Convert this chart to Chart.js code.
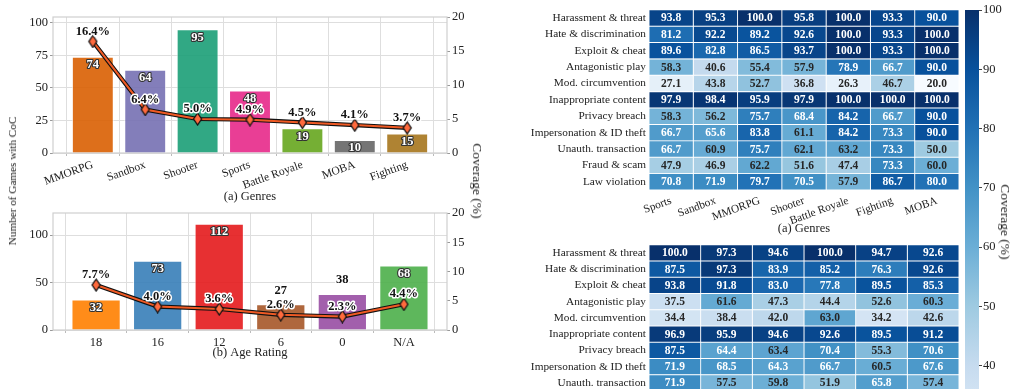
<!DOCTYPE html>
<html>
<head>
<meta charset="utf-8">
<script src="https://cdn.jsdelivr.net/npm/chart.js@4.4.1/dist/chart.umd.min.js"></script>
<style>
html, body { margin: 0; padding: 0; width: 1018px; height: 389px; overflow: hidden; background: #fff; }
canvas { position: absolute; }
.lbl { position: absolute; font-family: 'Liberation Serif', serif; color: #222; white-space: nowrap; transform-origin: center; }
</style>
</head>
<body>
<canvas id="genreChart" width="490" height="208" style="left:0;top:0"></canvas>
<canvas id="ageChart" width="490" height="168" style="left:0;top:196px"></canvas>
<canvas id="heatGenre" width="470" height="240" style="left:500px;top:0"></canvas>
<canvas id="heatAge" width="470" height="220" style="left:500px;top:235px"></canvas>
<canvas id="colorBar" width="78" height="500" style="left:940px;top:0"></canvas>
<div class="lbl" style="left:12px;top:181px;font-size:11.2px;transform:translate(-50%,-50%) rotate(-90deg)">Number of Games with CoC</div>
<div class="lbl" style="left:477px;top:181px;font-size:13.5px;transform:translate(-50%,-50%) rotate(90deg)">Coverage (%)</div>
<div class="lbl" style="left:1005px;top:222px;font-size:13.5px;transform:translate(-50%,-50%) rotate(90deg)">Coverage (%)</div>
<script>
// bar + line panels
const genres = ['MMORPG', 'Sandbox', 'Shooter', 'Sports', 'Battle Royale', 'MOBA', 'Fighting'];
const genreCounts = [74, 64, 95, 48, 19, 10, 15];
const genreCoverage = [16.4, 6.4, 5.0, 4.9, 4.5, 4.1, 3.7];
const ageRatings = ['18', '16', '12', '6', '0', 'N/A'];
const ageCounts = [32, 73, 112, 27, 38, 68];
const ageCoverage = [7.7, 4.0, 3.6, 2.6, 2.3, 4.4];
const genreCountTicks = [0, 25, 50, 75, 100];
const ageCountTicks = [0, 50, 100];
const coverageTicks = [0, 5, 10, 15, 20];

// heatmaps
const violations = ['Harassment & threat', 'Hate & discrimination', 'Exploit & cheat', 'Antagonistic play',
    'Mod. circumvention', 'Inappropriate content', 'Privacy breach', 'Impersonation & ID theft',
    'Unauth. transaction', 'Fraud & scam', 'Law violation'];
const heatGenres = ['Sports', 'Sandbox', 'MMORPG', 'Shooter', 'Battle Royale', 'Fighting', 'MOBA'];
const heatGenreValues = [
    [93.8, 95.3, 100.0, 95.8, 100.0, 93.3, 90.0],
    [81.2, 92.2, 89.2, 92.6, 100.0, 93.3, 100.0],
    [89.6, 82.8, 86.5, 93.7, 100.0, 93.3, 100.0],
    [58.3, 40.6, 55.4, 57.9, 78.9, 66.7, 90.0],
    [27.1, 43.8, 52.7, 36.8, 26.3, 46.7, 20.0],
    [97.9, 98.4, 95.9, 97.9, 100.0, 100.0, 100.0],
    [58.3, 56.2, 75.7, 68.4, 84.2, 66.7, 90.0],
    [66.7, 65.6, 83.8, 61.1, 84.2, 73.3, 90.0],
    [66.7, 60.9, 75.7, 62.1, 63.2, 73.3, 50.0],
    [47.9, 46.9, 62.2, 51.6, 47.4, 73.3, 60.0],
    [70.8, 71.9, 79.7, 70.5, 57.9, 86.7, 80.0]
];
const heatAgeRatings = ['18', '16', '12', '6', '0', 'N/A'];
// only the first nine rows are visible in the figure
const heatAgeValues = [
    [100.0, 97.3, 94.6, 100.0, 94.7, 92.6],
    [87.5, 97.3, 83.9, 85.2, 76.3, 92.6],
    [93.8, 91.8, 83.0, 77.8, 89.5, 85.3],
    [37.5, 61.6, 47.3, 44.4, 52.6, 60.3],
    [34.4, 38.4, 42.0, 63.0, 34.2, 42.6],
    [96.9, 95.9, 94.6, 92.6, 89.5, 91.2],
    [87.5, 64.4, 63.4, 70.4, 55.3, 70.6],
    [71.9, 68.5, 64.3, 66.7, 60.5, 67.6],
    [71.9, 57.5, 59.8, 51.9, 65.8, 57.4]
];
const colorBarRange = [20, 100];
const colorBarTicks = [20, 30, 40, 50, 60, 70, 80, 90, 100];

const genreColors = ['#d95f02', '#7570b3', '#1b9e77', '#e7298a', '#66a61e', '#666666', '#a6761d'];
const ageColors = ['#ff7f00', '#377eb8', '#e41a1c', '#a65628', '#984ea3', '#4daf4a'];
const blues = ['#f7fbff', '#deebf7', '#c6dbef', '#9ecae1', '#6baed6', '#4292c6', '#2171b5', '#08519c', '#08306b'];

Chart.defaults.font.family = "'Liberation Serif', serif";
Chart.defaults.color = '#222';
Chart.defaults.animation = false;
Chart.defaults.events = [];
Chart.defaults.plugins.legend.display = false;
Chart.defaults.plugins.tooltip.enabled = false;

function hexToRgb(h) {
    return [parseInt(h.slice(1, 3), 16), parseInt(h.slice(3, 5), 16), parseInt(h.slice(5, 7), 16)];
}

function blueFor(v) {
    let t = (v - colorBarRange[0]) / (colorBarRange[1] - colorBarRange[0]);
    t = Math.max(0, Math.min(1, t)) * (blues.length - 1);
    const i = Math.min(Math.floor(t), blues.length - 2);
    const f = t - i;
    const a = hexToRgb(blues[i]);
    const b = hexToRgb(blues[i + 1]);
    const c = a.map(function (x, k) { return Math.round(x + (b[k] - x) * f); });
    return 'rgb(' + c.join(',') + ')';
}

// thin diamond marker
const diamond = document.createElement('canvas');
diamond.width = 11;
diamond.height = 14;
(function () {
    const c = diamond.getContext('2d');
    c.beginPath();
    c.moveTo(5.5, 1);
    c.lineTo(9.5, 7);
    c.lineTo(5.5, 13);
    c.lineTo(1.5, 7);
    c.closePath();
    c.fillStyle = '#ff6a3d';
    c.fill();
    c.lineWidth = 1.3;
    c.strokeStyle = '#111';
    c.stroke();
})();

const framePlugin = {
    id: 'frame',
    beforeDatasetsDraw(chart) {
        const a = chart.chartArea;
        const ctx = chart.ctx;
        ctx.save();
        ctx.strokeStyle = '#cfcfcf';
        ctx.lineWidth = 1.2;
        ctx.strokeRect(a.left, a.top, a.right - a.left, a.bottom - a.top);
        ctx.restore();
    }
};

const valueLabels = {
    id: 'valueLabels',
    afterDatasetsDraw(chart, args, opts) {
        const ctx = chart.ctx;
        const bars = chart.getDatasetMeta(0).data;
        const pts = chart.getDatasetMeta(2).data;
        const counts = chart.data.datasets[0].data;
        const cover = chart.data.datasets[2].data;
        ctx.save();
        ctx.font = "bold 12.5px 'Liberation Serif'";
        ctx.textAlign = 'center';
        ctx.textBaseline = 'middle';
        ctx.lineJoin = 'round';
        bars.forEach(function (bar, i) {
            const txt = String(counts[i].y);
            if (opts.outside && opts.outside[i]) {
                ctx.lineWidth = 3;
                ctx.strokeStyle = '#fff';
                ctx.strokeText(txt, bar.x, bar.y - 14);
                ctx.fillStyle = '#111';
                ctx.fillText(txt, bar.x, bar.y - 14);
            } else {
                ctx.lineWidth = 2.2;
                ctx.strokeStyle = '#333';
                ctx.strokeText(txt, bar.x, bar.y + 8);
                ctx.fillStyle = '#fff';
                ctx.fillText(txt, bar.x, bar.y + 8);
            }
        });
        pts.forEach(function (p, i) {
            const txt = cover[i].y.toFixed(1) + '%';
            ctx.lineWidth = 3;
            ctx.strokeStyle = '#fff';
            ctx.strokeText(txt, p.x, p.y - 10);
            ctx.fillStyle = '#111';
            ctx.fillText(txt, p.x, p.y - 10);
        });
        ctx.restore();
    }
};

function barLineChart(id, labels, counts, coverage, colors, countMax, countTicks, title, rotation, outside, xHeight) {
    const n = labels.length;
    const pad = n > 6 ? 0.76 : 0.7;
    const ctx = document.getElementById(id).getContext('2d');
    return new Chart(ctx, {
        type: 'bar',
        data: {
            datasets: [{
                type: 'bar',
                data: counts.map(function (v, i) { return { x: i, y: v }; }),
                backgroundColor: colors.map(function (c) { return c + 'e6'; }),
                borderColor: 'rgba(255,255,255,0.7)',
                borderWidth: 1,
                barPercentage: 0.8,
                categoryPercentage: 1,
                yAxisID: 'y',
                order: 3
            }, {
                type: 'line',
                data: coverage.map(function (v, i) { return { x: i, y: v }; }),
                borderColor: '#111',
                borderWidth: 4.2,
                pointRadius: 0,
                yAxisID: 'y2',
                order: 2
            }, {
                type: 'line',
                data: coverage.map(function (v, i) { return { x: i, y: v }; }),
                borderColor: '#f05a24',
                borderWidth: 2,
                pointStyle: diamond,
                pointRadius: 6,
                yAxisID: 'y2',
                order: 1
            }]
        },
        options: {
            responsive: false,
            layout: { padding: { top: 17, left: 0, right: 0, bottom: 0 } },
            scales: {
                x: {
                    type: 'linear',
                    offset: false,
                    min: -pad,
                    max: n - 1 + pad,
                    afterBuildTicks: function (s) { s.ticks = labels.map(function (l, i) { return { value: i }; }); },
                    afterFit: function (s) { s.height = xHeight; },
                    ticks: {
                        autoSkip: false,
                        minRotation: rotation,
                        maxRotation: rotation,
                        padding: 2,
                        font: { size: rotation ? 11.5 : 12.5 },
                        callback: function (v, i) { return labels[i]; }
                    },
                    grid: { color: '#dedede', lineWidth: 1, tickLength: 3, tickColor: '#bbb' },
                    border: { display: false },
                    title: { display: true, text: title, font: { size: 12.5 }, padding: { top: 2, bottom: 4 } }
                },
                y: {
                    position: 'left',
                    min: 0,
                    max: countMax,
                    afterBuildTicks: function (s) { s.ticks = countTicks.map(function (v) { return { value: v }; }); },
                    afterFit: function (s) { s.width = 53; },
                    ticks: { font: { size: 12.5 }, padding: 2 },
                    grid: { color: '#dedede', lineWidth: 1, tickLength: 3, tickColor: '#999' },
                    border: { display: false }
                },
                y2: {
                    position: 'right',
                    min: 0,
                    max: 20,
                    afterBuildTicks: function (s) { s.ticks = coverageTicks.map(function (v) { return { value: v }; }); },
                    afterFit: function (s) { s.width = 43; },
                    ticks: { font: { size: 12.5 }, padding: 2 },
                    grid: { drawOnChartArea: false, tickLength: 3, tickColor: '#999' },
                    border: { display: false }
                }
            },
            plugins: { valueLabels: { outside: outside } }
        },
        plugins: [framePlugin, valueLabels]
    });
}

function heatmap(id, rows, cols, values, title, padTop, padRight, xHeight) {
    const ctx = document.getElementById(id).getContext('2d');
    const datasets = cols.map(function (c, j) {
        return {
            data: rows.map(function () { return [j, j + 1]; }),
            backgroundColor: rows.map(function (r, i) { return blueFor(values[i][j]); }),
            borderColor: '#fff',
            borderWidth: 0.8,
            borderSkipped: false,
            barPercentage: 1,
            categoryPercentage: 1,
            grouped: false
        };
    });
    const cellText = {
        id: 'cellText',
        afterDatasetsDraw(chart) {
            const c = chart.ctx;
            c.save();
            c.font = "bold 11.5px 'Liberation Serif'";
            c.textAlign = 'center';
            c.textBaseline = 'middle';
            chart.data.datasets.forEach(function (ds, j) {
                chart.getDatasetMeta(j).data.forEach(function (el, i) {
                    const p = el.getProps(['x', 'base', 'y'], true);
                    const v = values[i][j];
                    c.fillStyle = v >= 64 ? '#fff' : '#262626';
                    c.fillText(v.toFixed(1), (p.x + p.base) / 2, p.y + 0.5);
                });
            });
            c.restore();
        }
    };
    return new Chart(ctx, {
        type: 'bar',
        data: { labels: rows, datasets: datasets },
        options: {
            responsive: false,
            indexAxis: 'y',
            layout: { padding: { top: padTop, left: 0, right: padRight, bottom: 0 } },
            scales: {
                x: {
                    type: 'linear',
                    min: 0,
                    max: cols.length,
                    afterBuildTicks: function (s) { s.ticks = cols.map(function (c, j) { return { value: j + 0.5 }; }); },
                    afterFit: function (s) { s.height = xHeight; },
                    ticks: {
                        autoSkip: false,
                        minRotation: 20,
                        maxRotation: 20,
                        padding: 4,
                        font: { size: 11.3 },
                        callback: function (v, i) { return cols[i]; }
                    },
                    grid: { display: false, drawTicks: false },
                    border: { display: false },
                    title: { display: true, text: title, font: { size: 12.5 }, padding: { top: 2, bottom: 4 } }
                },
                y: {
                    type: 'category',
                    afterFit: function (s) { s.width = 149; },
                    ticks: { font: { size: 11.3 }, padding: 3, autoSkip: false },
                    grid: { display: false, drawTicks: false },
                    border: { display: false }
                }
            }
        },
        plugins: [cellText]
    });
}

barLineChart('genreChart', genres, genreCounts, genreCoverage, genreColors, 104.5, genreCountTicks,
    '(a) Genres', 20, null, 55);
barLineChart('ageChart', ageRatings, ageCounts, ageCoverage, ageColors, 123.2, ageCountTicks,
    '(b) Age Rating', 0, [false, false, false, true, true, false], 34);

heatmap('heatGenre', violations, heatGenres, heatGenreValues, '(a) Genres', 9, 11, 50);
heatmap('heatAge', violations.slice(0, heatAgeValues.length), heatAgeRatings, heatAgeValues, '(b) Age Rating', 8.5, 11, 64);

// colour bar
new Chart(document.getElementById('colorBar').getContext('2d'), {
    type: 'bar',
    data: {
        labels: [''],
        datasets: [{
            data: [colorBarRange],
            barPercentage: 1,
            categoryPercentage: 1,
            backgroundColor: function (context) {
                const chart = context.chart;
                const area = chart.chartArea;
                if (!area) return blues[4];
                const g = chart.ctx.createLinearGradient(0, area.bottom, 0, area.top);
                blues.forEach(function (c, i) { g.addColorStop(i / (blues.length - 1), c); });
                return g;
            }
        }]
    },
    options: {
        responsive: false,
        layout: { padding: { top: 10, left: 25, right: 0, bottom: 16 } },
        scales: {
            x: { display: false },
            y: {
                position: 'right',
                min: colorBarRange[0],
                max: colorBarRange[1],
                afterBuildTicks: function (s) { s.ticks = colorBarTicks.map(function (v) { return { value: v }; }); },
                afterFit: function (s) { s.width = 39; },
                ticks: { font: { size: 12.5 }, padding: 1 },
                grid: { drawOnChartArea: false, tickLength: 3, tickColor: '#444' },
                border: { display: false }
            }
        }
    }
});
</script>
</body>
</html>
